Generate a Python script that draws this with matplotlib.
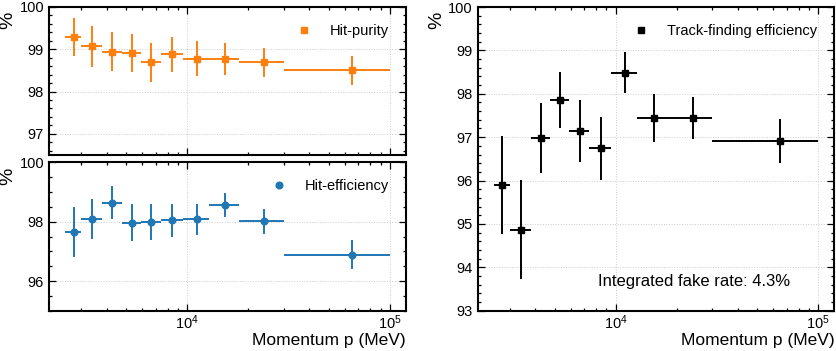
import matplotlib
matplotlib.use("Agg")
import matplotlib.pyplot as plt
import numpy as np
from matplotlib.ticker import AutoMinorLocator, MultipleLocator

plt.rcParams["font.family"] = ["Liberation Sans", "DejaVu Sans"]
plt.rcParams["mathtext.fontset"] = "custom"
plt.rcParams["mathtext.rm"] = "Liberation Sans"
plt.rcParams["mathtext.it"] = "Liberation Sans:italic"

# momentum bin edges (MeV)
bin_edges = [2500, 3000, 3800, 4750, 5900, 7400, 9500, 12800, 18000, 30000, 100000]

purity = [99.28, 99.07, 98.94, 98.91, 98.69, 98.88, 98.78, 98.78, 98.69, 98.50]
purity_err = [0.45, 0.48, 0.46, 0.45, 0.47, 0.42, 0.41, 0.38, 0.34, 0.35]

hit_eff = [97.66, 98.09, 98.64, 97.97, 97.98, 98.04, 98.08, 98.57, 98.02, 96.88]
hit_eff_err = [0.84, 0.69, 0.55, 0.62, 0.60, 0.56, 0.52, 0.41, 0.42, 0.49]

track_eff = [95.89, 94.87, 96.98, 97.86, 97.14, 96.74, 98.49, 97.44, 97.44, 96.91]
track_eff_err = [1.13, 1.14, 0.81, 0.65, 0.72, 0.72, 0.47, 0.56, 0.48, 0.50]

fake_rate_text = "Integrated fake rate: 4.3%"

edges = np.array(bin_edges, dtype=float)
centers = 0.5 * (edges[:-1] + edges[1:])
xerr = 0.5 * (edges[1:] - edges[:-1])


def style_axis(ax):
    ax.set_xscale("log")
    ax.tick_params(which="both", direction="in", top=True, right=True,
                   labelsize=10.5, width=0.9)
    ax.tick_params(which="major", length=5)
    ax.tick_params(which="minor", length=2.5)
    ax.tick_params(axis="x", which="major", pad=2)
    ax.yaxis.set_minor_locator(AutoMinorLocator())
    ax.grid(True, which="major", color="#cccccc", linestyle=":", linewidth=0.7)
    for spine in ax.spines.values():
        spine.set_linewidth(1.5)


def draw(ax, values, errors, color, marker, label):
    eb = ax.errorbar(centers, values, yerr=errors, xerr=xerr, fmt=marker,
                     color=color, markersize=4.8, elinewidth=1.4, capsize=0)
    ax.legend(handles=[eb.lines[0]], labels=[label], loc="upper right",
              frameon=False, fontsize=10.5, handlelength=1.0, handletextpad=1.3,
              borderaxespad=0.75)


fig = plt.figure(figsize=(8.37, 3.51), dpi=100)
ax_pur = fig.add_axes([0.0585, 0.5584, 0.4265, 0.4217])
ax_eff = fig.add_axes([0.0585, 0.1148, 0.4265, 0.4228])
ax_trk = fig.add_axes([0.5707, 0.1148, 0.4259, 0.8652])

for ax in (ax_pur, ax_eff, ax_trk):
    style_axis(ax)

draw(ax_pur, purity, purity_err, "#ff7f0e", "s", "Hit-purity")
ax_pur.set_ylim(96.5, 100)
ax_pur.yaxis.set_major_locator(MultipleLocator(1))
ax_pur.tick_params(labelbottom=False)

draw(ax_eff, hit_eff, hit_eff_err, "#1f77b4", "o", "Hit-efficiency")
ax_eff.set_ylim(95, 100)
ax_eff.yaxis.set_major_locator(MultipleLocator(2))
ax_eff.set_xlabel("Momentum p (MeV)", loc="right", fontsize=12.5, labelpad=1)

draw(ax_trk, track_eff, track_eff_err, "black", "s", "Track-finding efficiency")
ax_trk.set_ylim(93, 100)
ax_trk.yaxis.set_major_locator(MultipleLocator(1))
ax_trk.set_xlabel("Momentum p (MeV)", loc="right", fontsize=12.5, labelpad=1)
ax_trk.text(0.877, 0.095, fake_rate_text, transform=ax_trk.transAxes,
            ha="right", va="center", fontsize=12)

for ax in (ax_pur, ax_eff, ax_trk):
    ax.set_xlim(2080, 120000)
    ax.set_ylabel("%", loc="top", fontsize=14, labelpad=2)
    height_px = ax.get_position().height * fig.bbox.height
    ax.yaxis.label.set_y(1 - 5 / height_px)

fig.savefig("out.png", dpi=100)
